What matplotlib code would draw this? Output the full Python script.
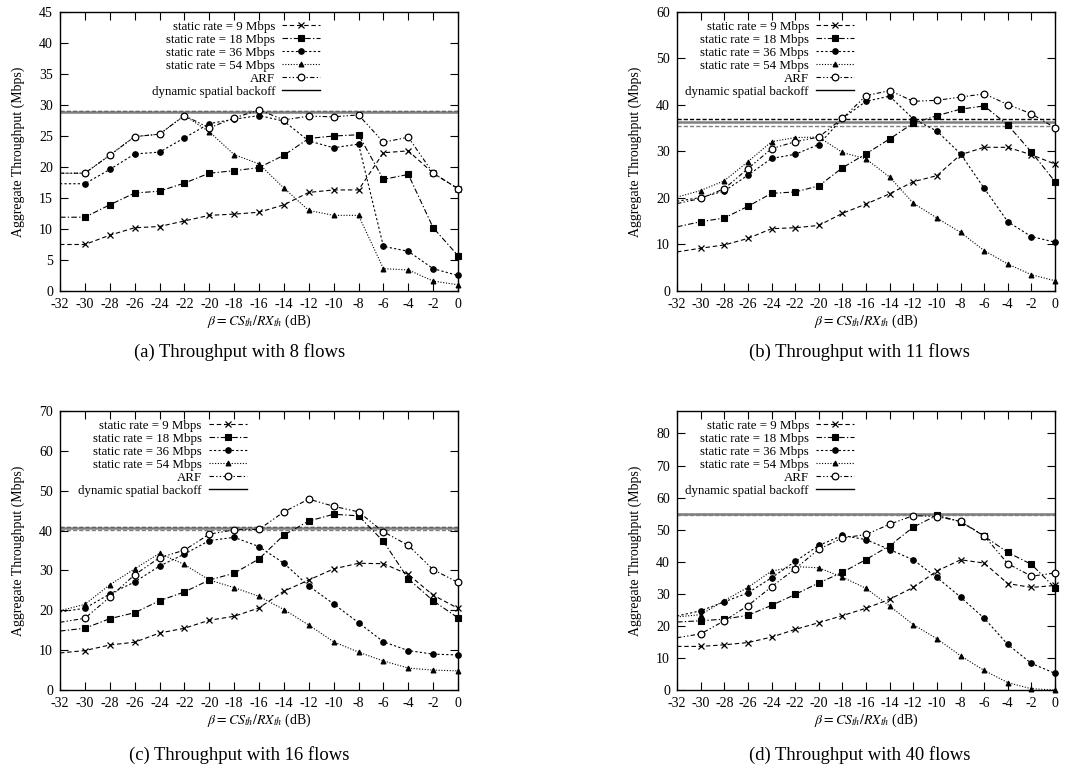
import numpy as np
import matplotlib.pyplot as plt
from matplotlib.lines import Line2D

plt.rcParams['font.family'] = ['Liberation Serif', 'DejaVu Serif']
plt.rcParams['mathtext.fontset'] = 'stix'

beta = np.arange(-32, 1, 2)

# (a) 8 flows
a_9 = [7.5, 7.5, 9.0, 10.2, 10.4, 11.3, 12.2, 12.4, 12.7, 13.9, 15.9, 16.3, 16.3, 22.3, 22.6, 19.0, 16.5]
a_18 = [11.9, 11.9, 13.9, 15.8, 16.1, 17.4, 19.0, 19.4, 19.9, 21.9, 24.6, 25.0, 25.2, 18.0, 18.8, 10.2, 5.7]
a_36 = [17.3, 17.3, 19.6, 22.1, 22.4, 24.7, 27.0, 27.7, 28.3, 27.4, 24.2, 23.1, 23.7, 7.2, 6.4, 3.6, 2.5]
a_54 = [19.0, 19.0, 21.9, 24.9, 25.3, 28.3, 25.7, 22.0, 20.5, 16.6, 13.0, 12.2, 12.2, 3.6, 3.4, 1.6, 1.0]
a_arf = [19.0, 19.0, 21.9, 24.9, 25.3, 28.3, 26.3, 27.9, 29.2, 27.6, 28.2, 28.1, 28.4, 24.0, 24.8, 19.0, 16.5]
a_dyn = [29.0, 28.9, 28.9]

# (b) 11 flows
b_9 = [8.4, 9.2, 9.9, 11.3, 13.4, 13.6, 14.1, 16.7, 18.7, 20.9, 23.5, 24.8, 29.3, 30.9, 30.9, 29.3, 27.3]
b_18 = [13.8, 14.9, 15.7, 18.2, 21.0, 21.3, 22.6, 26.5, 29.5, 32.7, 36.1, 37.7, 39.1, 39.8, 35.7, 29.9, 23.5]
b_36 = [19.3, 20.1, 21.5, 24.9, 28.5, 29.4, 31.5, 37.1, 40.8, 41.9, 37.0, 34.4, 29.5, 22.1, 14.9, 11.7, 10.5]
b_54 = [20.2, 21.6, 23.7, 27.8, 32.1, 33.0, 33.1, 29.8, 28.4, 24.5, 18.9, 15.7, 12.6, 8.7, 5.8, 3.5, 2.2]
b_arf = [18.8, 19.9, 22.0, 26.3, 30.6, 32.1, 33.1, 37.1, 42.0, 43.1, 40.8, 41.0, 41.7, 42.4, 40.1, 38.1, 35.1]
b_dyn = [36.9, 36.3, 35.5]

# (c) 16 flows
c_9 = [9.3, 9.9, 11.3, 12.0, 14.3, 15.5, 17.5, 18.5, 20.6, 24.8, 27.6, 30.4, 31.8, 31.7, 29.0, 23.8, 20.5]
c_18 = [14.8, 15.5, 17.9, 19.4, 22.4, 24.6, 27.6, 29.3, 32.9, 38.9, 42.4, 44.1, 43.7, 37.3, 27.9, 22.4, 18.1]
c_36 = [19.6, 20.5, 24.1, 27.1, 31.1, 34.1, 37.5, 38.3, 36.0, 31.8, 26.1, 21.6, 16.9, 12.1, 9.9, 9.0, 8.8]
c_54 = [19.9, 21.5, 26.4, 30.4, 34.3, 31.5, 27.6, 25.7, 23.5, 20.2, 16.3, 12.1, 9.5, 7.3, 5.5, 5.0, 4.8]
c_arf = [17.0, 18.0, 23.3, 28.9, 33.2, 35.1, 39.1, 40.2, 40.3, 44.7, 47.9, 46.1, 44.7, 39.7, 36.3, 30.2, 27.0]
c_dyn = [41.0, 40.6, 40.2]

# (d) 40 flows
d_9 = [13.6, 13.6, 14.1, 14.8, 16.5, 18.9, 21.0, 23.2, 25.5, 28.3, 32.0, 37.1, 40.6, 39.6, 33.2, 32.0, 32.6]
d_18 = [21.2, 21.6, 22.1, 23.3, 26.4, 29.8, 33.4, 36.7, 40.7, 45.0, 50.8, 54.5, 52.5, 48.0, 42.9, 39.2, 31.8]
d_36 = [23.1, 24.7, 27.5, 30.3, 35.0, 40.1, 45.1, 48.2, 46.9, 43.8, 40.6, 35.1, 29.0, 22.4, 14.2, 8.3, 5.2]
d_54 = [22.8, 23.5, 27.9, 32.0, 37.1, 38.5, 38.1, 35.2, 31.7, 26.2, 20.4, 16.0, 10.7, 6.1, 2.3, 0.4, 0.0]
d_arf = [16.3, 17.5, 21.6, 26.3, 32.2, 37.8, 43.9, 47.4, 48.5, 51.7, 54.4, 54.1, 52.6, 48.1, 39.4, 35.5, 36.5]
d_dyn = [55.0, 54.8, 54.6]

labels = ['static rate = 9 Mbps', 'static rate = 18 Mbps', 'static rate = 36 Mbps',
          'static rate = 54 Mbps', 'ARF', 'dynamic spatial backoff']
captions = ['(a) Throughput with 8 flows', '(b) Throughput with 11 flows',
            '(c) Throughput with 16 flows', '(d) Throughput with 40 flows']
ymax = [45, 60, 70, 87]
ystep = [5, 10, 10, 10]

styles = [
    dict(ls=(0, (4, 2.5)), marker='x', ms=4.8, mfc='black', mew=0.9),
    dict(ls=(0, (5, 2, 1.2, 2)), marker='s', ms=4.5, mfc='black', mew=0.8),
    dict(ls=(0, (2, 2)), marker='o', ms=4, mfc='black', mew=0.8),
    dict(ls=(0, (1, 1.5)), marker='^', ms=3.5, mfc='black', mew=0.8),
    dict(ls=(0, (4, 2, 1.2, 2, 1.2, 2)), marker='o', ms=4.8, mfc='white', mew=0.9),
]

panels = [(a_9, a_18, a_36, a_54, a_arf, a_dyn),
          (b_9, b_18, b_36, b_54, b_arf, b_dyn),
          (c_9, c_18, c_36, c_54, c_arf, c_dyn),
          (d_9, d_18, d_36, d_54, d_arf, d_dyn)]

# axes boxes in figure fraction (left, bottom, width, height)
boxes = [(0.0551, 0.6216, 0.3655, 0.3628),
         (0.6217, 0.6216, 0.3471, 0.3628),
         (0.0551, 0.1027, 0.3655, 0.3628),
         (0.6217, 0.1027, 0.3471, 0.3628)]
leg_x = [0.657, 0.472, 0.473, 0.472]
cap_pos = [(0.220, 0.542), (0.789, 0.542), (0.220, 0.018), (0.789, 0.018)]

fig = plt.figure(figsize=(10.89, 7.69), dpi=100)
for i, data in enumerate(panels):
    ax = fig.add_axes(boxes[i])
    dyn = data[5]
    ax.axhline(dyn[0], color='black', lw=1.0, ls=(0, (3, 1.5)), zorder=1)
    ax.axhline(dyn[1], color='0.5', lw=1.8, ls='-', zorder=1)
    ax.axhline(dyn[2], color='0.5', lw=1.0, ls=(0, (3, 1.5)), zorder=1)
    handles = []
    for j in range(5):
        h, = ax.plot(beta, data[j], color='black', lw=0.8, mec='black',
                     markevery=list(range(1, len(beta))), clip_on=False,
                     label=labels[j], zorder=3, **styles[j])
        handles.append(h)
    handles.append(Line2D([], [], color='black', lw=1.0))
    ax.set_xlim(-32, 0)
    ax.set_ylim(0, ymax[i])
    ax.set_xticks(beta)
    ax.set_xticklabels([str(b) for b in beta])
    ax.set_yticks(np.arange(0, ymax[i] + 0.1, ystep[i]))
    ax.tick_params(direction='in', top=True, right=True, length=6, width=0.8,
                   labelsize=10, pad=5)
    for s in ax.spines.values():
        s.set_linewidth(1.0)
    ax.set_xlabel(r'$\beta = CS_{th}/RX_{th}$ (dB)', fontsize=10, labelpad=1)
    ax.set_ylabel('Aggregate Throughput (Mbps)', fontsize=10, labelpad=10)
    ax.legend(handles, labels, loc='upper right', bbox_to_anchor=(leg_x[i], 0.974),
              frameon=False, markerfirst=False, fontsize=9.3, handlelength=2.95,
              handletextpad=0.55, labelspacing=0.08, borderpad=0.1, borderaxespad=0)
    fig.text(cap_pos[i][0], cap_pos[i][1], captions[i], ha='center', va='center',
             fontsize=13.4)

plt.savefig('out.png', dpi=100)
